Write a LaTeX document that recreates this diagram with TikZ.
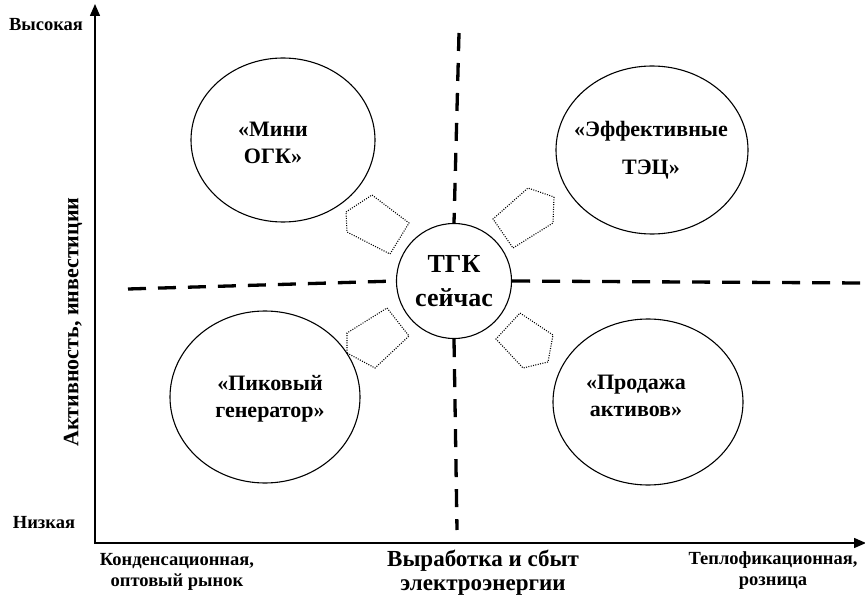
\documentclass[tikz,border=0pt]{standalone}
\usepackage{fontspec}
\setmainfont{Liberation Serif}
\usetikzlibrary{shapes.geometric,arrows.meta}
\begin{document}
\begin{tikzpicture}[x=1pt,y=-1pt,
  axisline/.style={line width=1.5pt,-{Triangle[length=12pt,width=10pt]}},
  quad/.style={line width=3.3pt,dash pattern=on 18pt off 12pt},
  blob/.style={draw,ellipse,line width=1.1pt,inner sep=0pt},
  blobtext/.style={align=center,inner sep=0pt,font=\bfseries\fontsize{22}{27}\selectfont},
  movebox/.style={draw,line width=1.1pt,dash pattern=on 1pt off 1.4pt},
  lbl/.style={font=\bfseries\fontsize{18.5}{21}\selectfont,align=center,inner sep=0pt}]
\useasboundingbox (0,0) rectangle (865,596);
% axes
\coordinate (O) at (95,543);
\coordinate (ytop) at (95,4);
\coordinate (xend) at (866,543);
\draw[axisline] (O) -- (ytop);
\draw[axisline] ([xshift=-0.75pt]O) -- (xend);
% ellipses
\node[blob,minimum width=184pt,minimum height=164pt] (mini) at (283,140) {};
\node[blob,minimum width=192pt,minimum height=168pt] (eff) at (652,150) {};
\node[blob,minimum width=190pt,minimum height=172pt] (pik) at (265,397) {};
\node[blob,minimum width=190pt,minimum height=166pt] (prod) at (648,402) {};
\node[blobtext,anchor=base] (minit) at (273,164) {«Мини\\ОГК»};
\node[blobtext,anchor=base,font=\bfseries\fontsize{22}{38}\selectfont] (efft) at (651,175) {«Эффективные\\ТЭЦ»};
\node[blobtext,anchor=base] (pikt) at (270,417) {«Пиковый\\генератор»};
\node[blobtext,anchor=base] (prodt) at (636,416) {«Продажа\\активов»};
% circle
\node[draw,circle,fill=white,line width=1.1pt,minimum size=115pt,inner sep=0pt,
  align=center,font=\bfseries\fontsize{26}{34}\selectfont] (tgk) at (454,281) {ТГК\\сейчас};
% quadrant lines
\coordinate (hl) at (128,289);
\coordinate (hr) at (862,283);
\coordinate (vt) at (459,33);
\coordinate (vb) at (457,530);
\draw[quad] (hl) -- (tgk.west);
\draw[quad] (tgk.east) -- (hr);
\draw[quad] (vt) -- (tgk.north);
\draw[quad] (tgk.south) -- (vb);
% dotted move arrows
\draw[movebox] (346,212) -- (372,195) -- (409,223) -- (390,254) -- (347,232) -- cycle;
\draw[movebox] (554,197) -- (553,223) -- (513,248) -- (493,219) -- (528,188) -- cycle;
\draw[movebox] (347,353) -- (347,333) -- (387,308) -- (409,336) -- (375,368) -- cycle;
\draw[movebox] (548,362) -- (523,368) -- (496,339) -- (520,313) -- (553,335) -- cycle;
% labels
\node[lbl] (high) at (46,25) {Высокая};
\node[lbl] (low) at (44,523) {Низкая};
\node[lbl,anchor=base] (left) at (177,586) {Конденсационная,\\оптовый рынок};
\node[lbl,anchor=base] (right) at (773,585) {Теплофикационная,\\розница};
\node[lbl,anchor=base,font=\bfseries\fontsize{23}{24}\selectfont] (xlab) at (483,590) {Выработка и сбыт\\электроэнергии};
\node[lbl,font=\bfseries\fontsize{22}{24}\selectfont,rotate=90] (ylab) at (73,322) {Активность, инвестиции};
\end{tikzpicture}
\end{document}
